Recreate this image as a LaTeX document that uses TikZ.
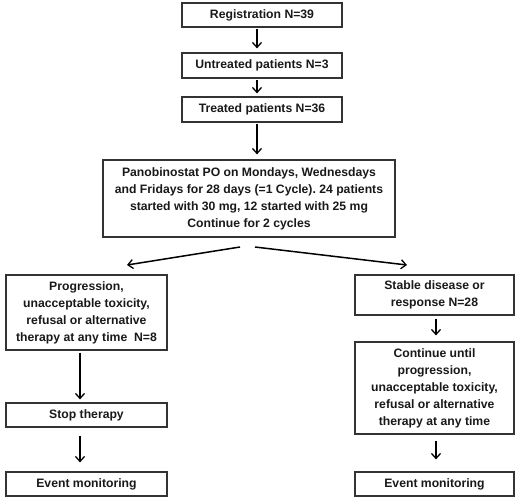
\documentclass[tikz,border=0pt]{standalone}
\usepackage{fontspec}
\setmainfont{Liberation Sans}
\usetikzlibrary{arrows.meta}
\frenchspacing
\begin{document}
\begin{tikzpicture}[x=1pt,y=-1pt,
  box/.style={draw=black!80, line width=1.2pt, inner sep=0pt, align=center,
    font=\fontsize{12.2}{17}\selectfont\bfseries\frenchspacing, text=black!90},
  arr/.style={line width=1.5pt, -{Straight Barb[length=5pt,width=9pt,line width=1.3pt]}}]
\useasboundingbox[fill=white] (0,0) rectangle (520,499);
\node[box, minimum width=160pt, minimum height=24pt] (reg) at (262,15) {Registration N=39};
\node[box, minimum width=160pt, minimum height=25pt] (untr) at (262,65.5) {Untreated patients N=3};
\node[box, minimum width=160pt, minimum height=25pt] (treat) at (262,109.5) {Treated patients N=36};
\node[box, minimum width=292pt, minimum height=77pt] (pano) at (249,198.5)
  {Panobinostat PO on Mondays, Wednesdays\\and Fridays for 28 days (=1 Cycle). 24 patients\\started with 30 mg, 12 started with 25 mg\\Continue for 2 cycles};
\node[box, minimum width=161pt, minimum height=75pt] (prog) at (86.5,312.5)
  {Progression,\\unacceptable toxicity,\\refusal or alternative\\therapy at any time~~N=8};
\node[box, minimum width=161pt, minimum height=24pt] (stop) at (86.5,415) {Stop therapy};
\node[box, minimum width=161pt, minimum height=24pt] (ev1) at (86.5,484) {Event monitoring};
\node[box, minimum width=159pt, minimum height=40pt] (stab) at (434.5,295)
  {Stable disease or\\response N=28};
\node[box, minimum width=159pt, minimum height=92pt] (cont) at (434.5,388)
  {Continue until\\progression,\\unacceptable toxicity,\\refusal or alternative\\therapy at any time};
\node[box, minimum width=159pt, minimum height=24pt] (ev2) at (434.5,484) {Event monitoring};
\coordinate (ax) at (257,0);
\coordinate (lx) at (80,0);
\coordinate (rx) at (436,0);
\coordinate (pl) at (240,247);
\coordinate (pr) at (255,247);
\coordinate (tl) at (127,265);
\coordinate (tr) at (407,265);
\draw[arr, shorten <=1pt, shorten >=4pt] (reg.south -| ax) -- (untr.north -| ax);
\draw[arr, shorten <=1pt, shorten >=3pt] (untr.south -| ax) -- (treat.north -| ax);
\draw[arr, shorten <=1pt, shorten >=5pt] (treat.south -| ax) -- (pano.north -| ax);
\draw[arr] (pl) -- (tl);
\draw[arr] (pr) -- (tr);
\draw[arr, shorten <=2pt, shorten >=3pt] (prog.south -| lx) -- (stop.north -| lx);
\draw[arr, shorten <=8pt, shorten >=9pt] (stop.south -| lx) -- (ev1.north -| lx);
\draw[arr, shorten <=3pt, shorten >=6pt] (stab.south -| rx) -- (cont.north -| rx);
\draw[arr, shorten <=6pt, shorten >=12pt] (cont.south -| rx) -- (ev2.north -| rx);
\end{tikzpicture}
\end{document}
